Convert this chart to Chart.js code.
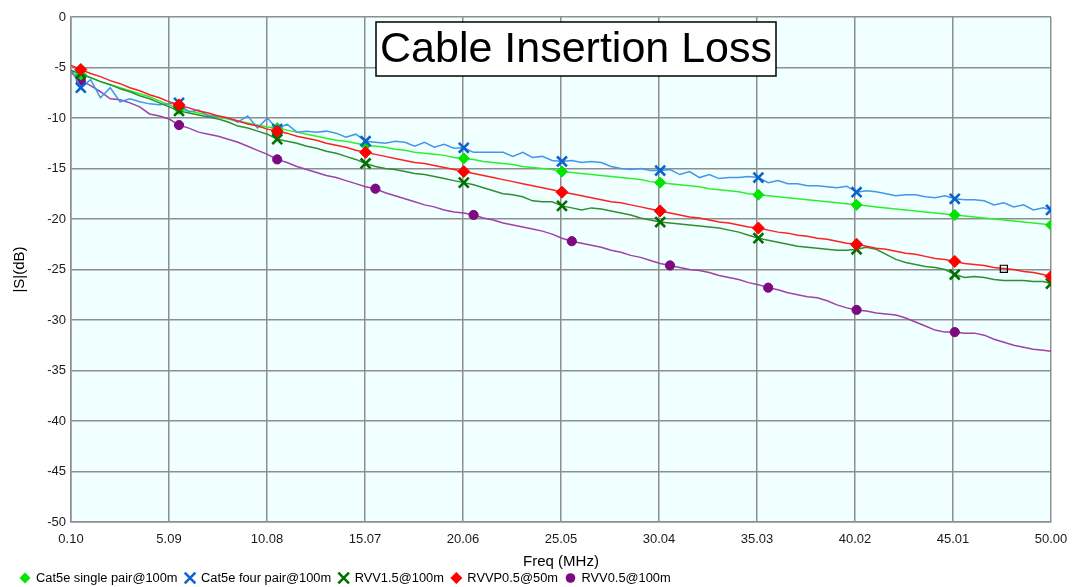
<!DOCTYPE html>
<html>
<head>
<meta charset="utf-8">
<title>Cable Insertion Loss</title>
<script src="https://cdn.jsdelivr.net/npm/chart.js@4.4.1/dist/chart.umd.min.js"></script>
<style>
  html, body { margin: 0; padding: 0; background: #fff; }
</style>
</head>
<body>
<canvas id="lossChart" width="1075" height="587"></canvas>
<script>
// frequency points (MHz), 0.5 MHz apart
const freq = [
  0.1, 0.6, 1.1, 1.6, 2.1, 2.6, 3.1, 3.6, 4.1, 4.6,
  5.1, 5.6, 6.1, 6.6, 7.1, 7.6, 8.1, 8.6, 9.1, 9.6,
  10.1, 10.6, 11.1, 11.6, 12.1, 12.6, 13.1, 13.6, 14.1, 14.6,
  15.1, 15.6, 16.1, 16.6, 17.1, 17.6, 18.1, 18.6, 19.1, 19.6,
  20.1, 20.6, 21.1, 21.6, 22.1, 22.6, 23.1, 23.6, 24.1, 24.6,
  25.1, 25.6, 26.1, 26.6, 27.1, 27.6, 28.1, 28.6, 29.1, 29.6,
  30.1, 30.6, 31.1, 31.6, 32.1, 32.6, 33.1, 33.6, 34.1, 34.6,
  35.1, 35.6, 36.1, 36.6, 37.1, 37.6, 38.1, 38.6, 39.1, 39.6,
  40.1, 40.6, 41.1, 41.6, 42.1, 42.6, 43.1, 43.6, 44.1, 44.6,
  45.1, 45.6, 46.1, 46.6, 47.1, 47.6, 48.1, 48.6, 49.1, 49.6,
  50.0
];

// |S| in dB
const cat5eSingle = [
  -5.4, -5.7, -6.0, -6.4, -6.7, -7.0, -7.3, -7.6, -7.9, -8.3,
  -8.7, -9.1, -9.3, -9.5, -9.7, -9.9, -10.1, -10.3, -10.5, -10.7,
  -10.9, -11.0, -11.2, -11.4, -11.6, -11.8, -12.0, -12.2, -12.3, -12.5,
  -12.7, -12.8, -12.9, -13.1, -13.2, -13.4, -13.5, -13.6, -13.7, -13.9,
  -14.0, -14.1, -14.3, -14.4, -14.5, -14.6, -14.8, -14.9, -15.0, -15.1,
  -15.3, -15.4, -15.5, -15.6, -15.7, -15.8, -15.9, -16.0, -16.1, -16.3,
  -16.4, -16.5, -16.6, -16.7, -16.8, -17.0, -17.1, -17.2, -17.3, -17.5,
  -17.6, -17.7, -17.8, -17.9, -18.0, -18.1, -18.2, -18.3, -18.4, -18.5,
  -18.6, -18.7, -18.8, -18.9, -19.0, -19.1, -19.2, -19.3, -19.4, -19.5,
  -19.6, -19.7, -19.8, -19.9, -20.0, -20.1, -20.2, -20.3, -20.4, -20.5,
  -20.6
];
const cat5eFour = [
  -5.2, -7.0, -6.2, -8.0, -7.0, -8.4, -8.1, -8.4, -8.6, -8.7,
  -8.6, -8.5, -9.4, -9.2, -9.8, -9.8, -10.0, -10.4, -9.8, -11.0,
  -10.0, -11.1, -10.6, -11.4, -11.3, -11.4, -11.3, -11.5, -11.9, -11.6,
  -12.3, -12.4, -12.5, -12.3, -12.4, -12.8, -12.4, -12.9, -12.6, -13.0,
  -12.95, -13.4, -13.4, -13.4, -13.4, -13.8, -13.4, -13.9, -13.8, -14.2,
  -14.3, -14.2, -14.4, -14.3, -14.4, -14.8, -15.0, -15.1, -15.0, -15.2,
  -15.2, -15.1, -15.6, -15.3, -15.9, -15.6, -16.0, -15.9, -15.9, -15.8,
  -15.9, -16.4, -16.2, -16.5, -16.5, -16.7, -16.7, -16.8, -16.9, -16.75,
  -17.35, -17.2, -17.3, -17.5, -17.7, -17.6, -17.6, -17.8, -17.9, -17.7,
  -18.0, -18.1, -18.1, -18.2, -18.6, -18.4, -18.8, -18.6, -19.1, -18.9,
  -19.1
];
const rvv15 = [
  -5.3, -5.6, -6.0, -6.4, -6.7, -7.1, -7.4, -7.8, -8.1, -8.5,
  -8.9, -9.3, -9.5, -9.7, -9.9, -10.1, -10.4, -10.8, -11.0, -11.3,
  -11.6, -12.1, -12.3, -12.5, -12.8, -13.0, -13.3, -13.5, -13.8, -14.1,
  -14.5, -14.8, -15.0, -15.1, -15.3, -15.5, -15.6, -15.8, -16.0, -16.2,
  -16.4, -16.6, -16.9, -17.2, -17.5, -17.6, -17.8, -18.2, -18.3, -18.3,
  -18.7, -18.9, -19.1, -18.9, -19.0, -19.2, -19.4, -19.6, -19.9, -20.1,
  -20.3, -20.4, -20.5, -20.6, -20.7, -20.8, -20.9, -21.1, -21.3, -21.6,
  -21.9, -22.1, -22.3, -22.5, -22.7, -22.8, -22.9, -23.0, -23.1, -23.1,
  -23.0, -22.8, -23.0, -23.5, -24.0, -24.3, -24.5, -24.7, -24.8, -25.0,
  -25.5, -25.8, -25.7, -25.8, -26.0, -26.1, -26.1, -26.1, -26.2, -26.2,
  -26.4
];
const rvvp05 = [
  -4.8, -5.2, -5.6, -5.9, -6.3, -6.6, -7.0, -7.3, -7.7, -8.0,
  -8.4, -8.7, -9.0, -9.3, -9.5, -9.8, -10.0, -10.3, -10.6, -10.8,
  -11.1, -11.3, -11.5, -11.8, -12.0, -12.2, -12.5, -12.7, -12.9, -13.2,
  -13.4, -13.6, -13.8, -14.0, -14.2, -14.4, -14.5, -14.7, -14.9, -15.1,
  -15.3, -15.5, -15.7, -15.9, -16.1, -16.3, -16.5, -16.7, -16.9, -17.1,
  -17.35, -17.5, -17.7, -17.9, -18.1, -18.3, -18.4, -18.6, -18.8, -19.0,
  -19.2, -19.4, -19.6, -19.8, -19.9, -20.1, -20.3, -20.4, -20.6, -20.8,
  -20.9, -21.1, -21.3, -21.4, -21.6, -21.7, -21.9, -22.0, -22.2, -22.4,
  -22.5, -22.7, -22.9, -23.0, -23.2, -23.4, -23.5, -23.7, -23.9, -24.0,
  -24.2, -24.4, -24.5, -24.6, -24.8, -24.9, -25.0, -25.2, -25.3, -25.5,
  -25.7
];
const rvv05 = [
  -5.5, -6.3, -6.8, -7.4, -8.1, -8.2, -8.5, -8.9, -9.6, -9.8,
  -10.1, -10.7, -11.0, -11.4, -11.6, -11.8, -12.1, -12.4, -12.8, -13.2,
  -13.6, -14.1, -14.4, -14.8, -15.1, -15.4, -15.7, -15.9, -16.2, -16.5,
  -16.8, -17.0, -17.4, -17.7, -18.0, -18.3, -18.6, -18.8, -19.1, -19.3,
  -19.4, -19.6, -19.9, -20.1, -20.4, -20.6, -20.8, -21.0, -21.2, -21.5,
  -21.9, -22.2, -22.4, -22.6, -22.8, -23.1, -23.3, -23.6, -23.8, -24.1,
  -24.4, -24.6, -24.8, -25.0, -25.1, -25.3, -25.6, -25.8, -26.0, -26.3,
  -26.5, -26.8, -27.0, -27.3, -27.5, -27.7, -27.8, -28.1, -28.5, -28.8,
  -29.0, -29.1, -29.3, -29.4, -29.5, -29.8, -30.2, -30.6, -31.0, -31.2,
  -31.2, -31.3, -31.3, -31.5, -31.9, -32.2, -32.5, -32.7, -32.9, -33.0,
  -33.1
];

// which points carry a marker
const markIdx = [1, 11, 21, 30, 40, 50, 60, 70, 80, 90, 100];
const markIdxRvv05 = [1, 11, 21, 31, 41, 51, 61, 71, 80, 90];

// the little cursor box on the RVVP trace
const cursorFreq = [47.6];
const cursorLoss = [-24.93];

const xTicks = [0.10, 5.09, 10.08, 15.07, 20.06, 25.05, 30.04, 35.03, 40.02, 45.01, 50.00];
const yTicks = [-50, -45, -40, -35, -30, -25, -20, -15, -10, -5, 0];

const FONT = '"Liberation Sans", Arial, sans-serif';
const GRID = '#8e8e8e';

const makeSet = (label, values, marks, st) => ({
  label,
  data: freq.map((f, i) => ({ x: f, y: values[i] })),
  borderColor: st.line,
  borderWidth: 1.5,
  pointStyle: st.shape,
  pointBackgroundColor: st.mark,
  pointBorderColor: st.mark,
  pointBorderWidth: st.shape === 'crossRot' ? 2.6 : 1,
  pointRadius: ctx => (marks.includes(ctx.dataIndex) ? st.size : 0),
  pointHoverRadius: 0,
  order: st.order,
  legendSize: st.legendSize
});

const datasets = [
  makeSet('Cat5e single pair@100m', cat5eSingle, markIdx,
    { line: '#2cf02c', mark: '#00e600', shape: 'rectRot', size: 5.5, legendSize: 5.5, order: 3 }),
  makeSet('Cat5e four pair@100m', cat5eFour, markIdx,
    { line: '#4596e6', mark: '#0b63cf', shape: 'crossRot', size: 7, legendSize: 7.5, order: 2 }),
  makeSet('RVV1.5@100m', rvv15, markIdx,
    { line: '#2f8f2f', mark: '#007000', shape: 'crossRot', size: 7, legendSize: 7.5, order: 1 }),
  makeSet('RVVP0.5@50m', rvvp05, markIdx,
    { line: '#ff2020', mark: '#ff0000', shape: 'rectRot', size: 6, legendSize: 6, order: 0 }),
  makeSet('RVV0.5@100m', rvv05, markIdxRvv05,
    { line: '#a040a8', mark: '#7d0a80', shape: 'circle', size: 4.6, legendSize: 4.8, order: 4 }),
  {
    label: '',
    cursor: true,
    data: cursorFreq.map((f, i) => ({ x: f, y: cursorLoss[i] })),
    showLine: false,
    pointStyle: 'rect',
    pointRadius: 5,
    pointBackgroundColor: 'rgba(255,255,255,0)',
    pointBorderColor: '#000',
    pointBorderWidth: 1.2,
    order: -1
  }
];

function drawMarker(ctx, shape, x, y, r, color) {
  ctx.save();
  ctx.fillStyle = color;
  ctx.strokeStyle = color;
  ctx.beginPath();
  if (shape === 'rectRot') {
    ctx.moveTo(x, y - r);
    ctx.lineTo(x + r, y);
    ctx.lineTo(x, y + r);
    ctx.lineTo(x - r, y);
    ctx.closePath();
    ctx.fill();
  } else if (shape === 'crossRot') {
    const d = r * Math.SQRT1_2;
    ctx.lineWidth = 2.6;
    ctx.moveTo(x - d, y - d);
    ctx.lineTo(x + d, y + d);
    ctx.moveTo(x + d, y - d);
    ctx.lineTo(x - d, y + d);
    ctx.stroke();
  } else {
    ctx.arc(x, y, r, 0, Math.PI * 2);
    ctx.fill();
  }
  ctx.restore();
}

// plot background, title box and the legend row
const decor = {
  id: 'decor',
  beforeDraw(chart) {
    const { ctx, chartArea: a } = chart;
    ctx.save();
    ctx.fillStyle = '#f0ffff';
    ctx.fillRect(a.left, a.top, a.right - a.left, a.bottom - a.top);
    ctx.restore();
  },
  afterDraw(chart) {
    const { ctx, chartArea: a } = chart;
    ctx.save();
    // title box
    const bx = a.left + 305, by = a.top + 5, bw = 400, bh = 54;
    ctx.fillStyle = '#fff';
    ctx.fillRect(bx, by, bw, bh);
    ctx.strokeStyle = '#000';
    ctx.lineWidth = 1.5;
    ctx.strokeRect(bx, by, bw, bh);
    ctx.fillStyle = '#000';
    ctx.font = '43px ' + FONT;
    ctx.textAlign = 'center';
    ctx.textBaseline = 'middle';
    ctx.fillText('Cable Insertion Loss', bx + bw / 2, by + bh / 2 + 1);

    // legend
    ctx.font = '12.85px ' + FONT;
    ctx.textAlign = 'left';
    ctx.textBaseline = 'middle';
    let x = 25;
    const y = 578;
    chart.data.datasets.filter(d => !d.cursor).forEach(d => {
      drawMarker(ctx, d.pointStyle, x, y, d.legendSize, d.pointBorderColor);
      ctx.fillStyle = '#000';
      ctx.fillText(d.label, x + 11, y);
      x += 11 + ctx.measureText(d.label).width + 12.5;
    });
    ctx.restore();
  }
};

new Chart(document.getElementById('lossChart'), {
  type: 'line',
  data: { datasets },
  options: {
    responsive: false,
    animation: false,
    events: [],
    layout: { padding: { left: 0, right: 24, top: 17, bottom: 16 } },
    plugins: {
      legend: { display: false },
      tooltip: { enabled: false }
    },
    scales: {
      x: {
        type: 'linear',
        min: 0.1,
        max: 50,
        afterBuildTicks: s => { s.ticks = xTicks.map(v => ({ value: v })); },
        afterFit: s => { s.height = 49; },
        ticks: {
          autoSkip: false,
          maxRotation: 0,
          padding: 0,
          color: '#1a1a1a',
          font: { family: FONT, size: 13 },
          callback: v => v.toFixed(2)
        },
        // invisible tick marks just push the labels down
        grid: { color: GRID, lineWidth: 1.5, drawTicks: true, tickLength: 10, tickColor: 'rgba(0,0,0,0)' },
        border: { color: GRID, width: 1.5 },
        title: {
          display: true,
          text: 'Freq (MHz)',
          color: '#000',
          font: { family: FONT, size: 15 },
          padding: { top: 0, bottom: 0 }
        }
      },
      y: {
        min: -50,
        max: 0,
        afterBuildTicks: s => { s.ticks = yTicks.map(v => ({ value: v })); },
        afterFit: s => { s.width = 71; },
        ticks: {
          padding: 5,
          color: '#1a1a1a',
          font: { family: FONT, size: 13 },
          callback: v => String(v)
        },
        grid: { color: GRID, lineWidth: 1.5, drawTicks: false },
        border: { color: GRID, width: 1.5 },
        title: {
          display: true,
          text: '|S|(dB)',
          color: '#000',
          font: { family: FONT, size: 15 },
          padding: { top: 11, bottom: 0 }
        }
      }
    }
  },
  plugins: [decor]
});
</script>
</body>
</html>
